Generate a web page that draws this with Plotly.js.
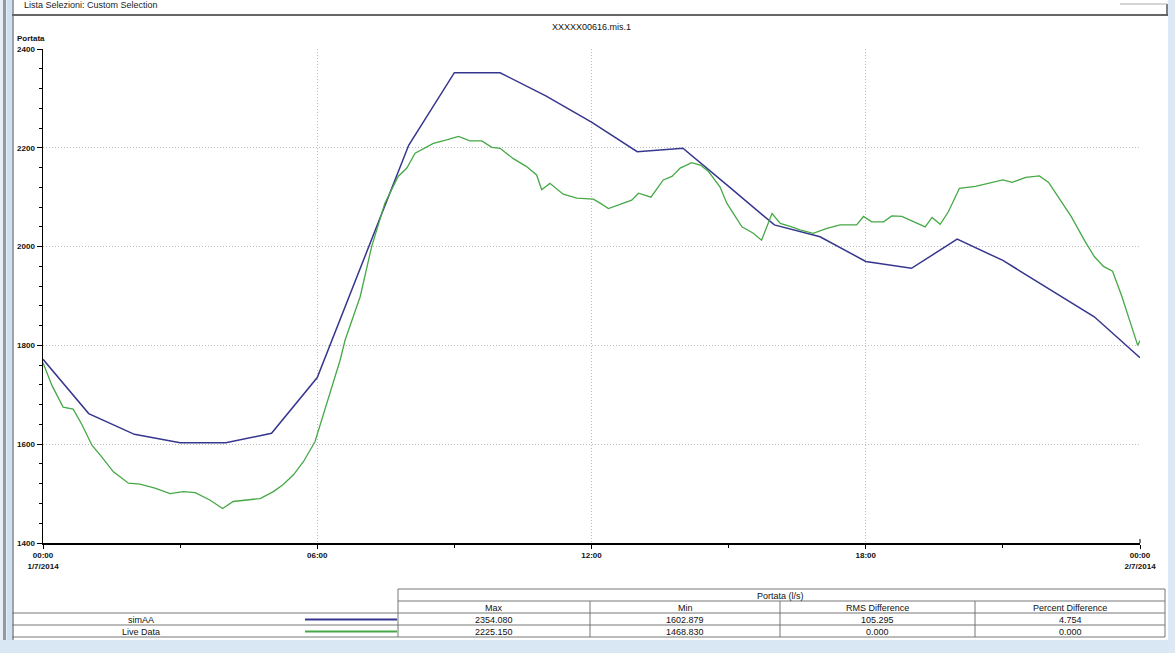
<!DOCTYPE html>
<html>
<head>
<meta charset="utf-8">
<script src="https://cdn.plot.ly/plotly-3.0.1.min.js"></script>
<style>
html,body{margin:0;padding:0;background:#fff;}
#chart{width:1175px;height:653px;}
</style>
</head>
<body>
<div id="chart"></div>
<script>
// ---- data ----
const simHours = [0,1,2,3,4,5,6,7,8,9,10,11,12,13,14,15,16,17,18,19,20,21,22,23,24];
const simValues = [1772,1662,1620,1603,1603,1622,1735,1968,2205,2352,2352,2305,2252,2192,2199,2122,2044,2020,1970,1956,2015,1972,1915,1858,1775];

const liveHours = [0,0.2,0.44,0.66,0.85,1.07,1.28,1.54,1.87,2.12,2.45,2.78,3.07,3.33,3.65,3.93,4.16,4.46,4.75,5.04,5.25,5.48,5.7,5.95,6.2,6.5,6.61,6.94,7.19,7.48,7.77,7.96,8.14,8.54,8.83,9.09,9.34,9.6,9.82,10.0,10.29,10.58,10.8,10.91,11.09,11.38,11.68,12.04,12.19,12.37,12.88,13.03,13.3,13.57,13.76,13.94,14.19,14.38,14.56,14.81,14.96,15.29,15.54,15.72,15.95,16.13,16.38,16.56,16.85,17.15,17.44,17.8,17.95,18.13,18.39,18.57,18.79,19.04,19.3,19.45,19.63,19.81,20.05,20.4,20.75,21.0,21.2,21.5,21.8,22.0,22.25,22.5,22.8,23.0,23.2,23.4,23.6,23.8,23.95,24.0];
const liveValues = [1765,1718,1675,1671,1640,1598,1575,1544,1521,1519,1511,1500,1504,1502,1487,1470,1484,1487,1490,1504,1518,1538,1565,1605,1680,1770,1811,1899,2000,2088,2142,2159,2189,2209,2216,2223,2214,2214,2201,2199,2178,2162,2145,2115,2128,2106,2098,2096,2088,2077,2094,2108,2100,2135,2142,2159,2170,2165,2152,2121,2088,2040,2027,2013,2067,2047,2040,2034,2027,2037,2044,2044,2061,2050,2050,2062,2061,2050,2040,2059,2045,2071,2118,2122,2130,2135,2130,2140,2143,2130,2095,2060,2010,1980,1960,1950,1900,1840,1800,1810];

const xTickVals = [0,6,12,18,24];
const xTickText = ['00:00<br>1/7/2014','06:00','12:00','18:00','00:00<br>2/7/2014'];
const yTickVals = [1400,1600,1800,2000,2200,2400];

const chartTitle = 'XXXXX00616.mis.1';
const headerText = 'Lista Selezioni: Custom Selection';
const yLabel = 'Portata';
const tableGroup = 'Portata (l/s)';
const tableCols = ['Max','Min','RMS Difference','Percent Difference'];
const seriesNames = ['simAA','Live Data'];
const tableRows = [
  ['2354.080','1602.879','105.295','4.754'],
  ['2225.150','1468.830','0.000','0.000']
];
const seriesColors = ['#36368f','#46a846'];

// ---- geometry helpers (pixel -> paper) ----
const L = 43, R = 1140, T = 49, B = 543;
const W = 1175, H = 653;
const px = v => (v - L) / (R - L);
const py = v => (B - v) / (B - T);

const shapes = [];
const annotations = [];
function rect(x0,y0,x1,y1,fill,line){
  shapes.push({type:'rect',xref:'paper',yref:'paper',x0:px(x0),x1:px(x1),y0:py(y1),y1:py(y0),
    fillcolor:fill||'rgba(0,0,0,0)',line:line||{width:0},layer:'above'});
}
function hline(x0,x1,y,color,w){
  shapes.push({type:'line',xref:'paper',yref:'paper',x0:px(x0),x1:px(x1),y0:py(y),y1:py(y),
    line:{color:color,width:w||1},layer:'above'});
}
function vline(x,y0,y1,color,w){
  shapes.push({type:'line',xref:'paper',yref:'paper',x0:px(x),x1:px(x),y0:py(y0),y1:py(y1),
    line:{color:color,width:w||1},layer:'above'});
}
function text(t,x,y,opts){
  opts = opts||{};
  annotations.push({text:t,xref:'paper',yref:'paper',x:px(x),y:py(y),showarrow:false,
    xanchor:opts.xa||'center',yanchor:opts.ya||'middle',
    font:{family:'Liberation Sans, Arial, sans-serif',size:opts.size||9,color:opts.color||'#111',weight:opts.weight||'normal'}});
}

// window chrome
rect(0,0,7,653,'#e8eef5');
rect(3,0,6,653,'#8e9aa6');
rect(7,0,12,653,'#cfe0f1');
vline(13,0,640,'#7d8590',1.5);
rect(0,640,1175,653,'#d9e6f3');
rect(1168,0,1175,653,'#dce9f5');
hline(12,1168,15,'#666',2);
vline(1167,4,15,'#555',1.5);
hline(1120,1167,4,'#aaa',1);
text(headerText,22,5,{xa:'left',size:9,color:'#222'});

// title & y label
text(chartTitle,591,27,{size:9});
text(yLabel,15,39,{xa:'left',size:8,weight:'bold'});

// end tick on x axis
vline(1140,543,539,'#000',1);

// table
const colX = [398,590,780,975,1165];
hline(398,1165,589,'#777',1);
vline(398,589,637,'#777',1);
vline(1165,589,637,'#777',1);
text(tableGroup,780,595.5,{size:9});
hline(398,1165,601,'#777',1);
for(let i=0;i<tableCols.length;i++){
  const cx=(colX[i]+colX[i+1])/2;
  text(tableCols[i],cx,607.5,{size:9});
  if(i>0) vline(colX[i],601,637,'#777',1);
}
hline(12,1165,613,'#777',1);
hline(12,1165,625,'#777',1);
hline(12,1165,637,'#777',1);
for(let r=0;r<tableRows.length;r++){
  const cy = 619.5 + r*12;
  text(seriesNames[r],141,cy,{size:9});
  hline(305,397,cy,seriesColors[r],2);
  for(let c=0;c<tableRows[r].length;c++){
    text(tableRows[r][c],(colX[c]+colX[c+1])/2,cy,{size:9});
  }
}

const traces = [
  {x:simHours,y:simValues,name:seriesNames[0],type:'scatter',mode:'lines',line:{color:seriesColors[0],width:1.5}},
  {x:liveHours,y:liveValues,name:seriesNames[1],type:'scatter',mode:'lines',line:{color:seriesColors[1],width:1.3}}
];

const layout = {
  width:W,height:H,
  margin:{l:L,r:W-R,t:T,b:H-B,pad:0},
  paper_bgcolor:'#ffffff',plot_bgcolor:'#ffffff',
  showlegend:false,
  xaxis:{range:[0,24],tickmode:'array',tickvals:xTickVals,ticktext:xTickText,
    showgrid:true,gridcolor:'#bdbdbd',griddash:'1px,2px',gridwidth:1,
    showline:true,linecolor:'#000',linewidth:1.5,zeroline:false,
    ticks:'outside',ticklen:4,tickcolor:'#000',
    minor:{tickmode:'array',tickvals:[3,9,15,21],ticklen:3,tickcolor:'#000',showgrid:false,ticks:'outside'},
    tickfont:{family:'Liberation Sans, Arial, sans-serif',size:8,color:'#111',weight:'bold'},fixedrange:true},
  yaxis:{range:[1400,2400],tickmode:'array',tickvals:yTickVals,
    showgrid:true,gridcolor:'#bdbdbd',griddash:'1px,2px',gridwidth:1,
    showline:true,linecolor:'#000',linewidth:1.5,zeroline:false,
    ticks:'outside',ticklen:5,tickcolor:'#000',
    minor:{dtick:40,ticklen:3,tickcolor:'#000',showgrid:false,ticks:'outside'},
    tickfont:{family:'Liberation Sans, Arial, sans-serif',size:8,color:'#111',weight:'bold'},fixedrange:true},
  shapes:shapes,
  annotations:annotations
};

Plotly.newPlot('chart',traces,layout,{displayModeBar:false,staticPlot:true});
</script>
</body>
</html>
